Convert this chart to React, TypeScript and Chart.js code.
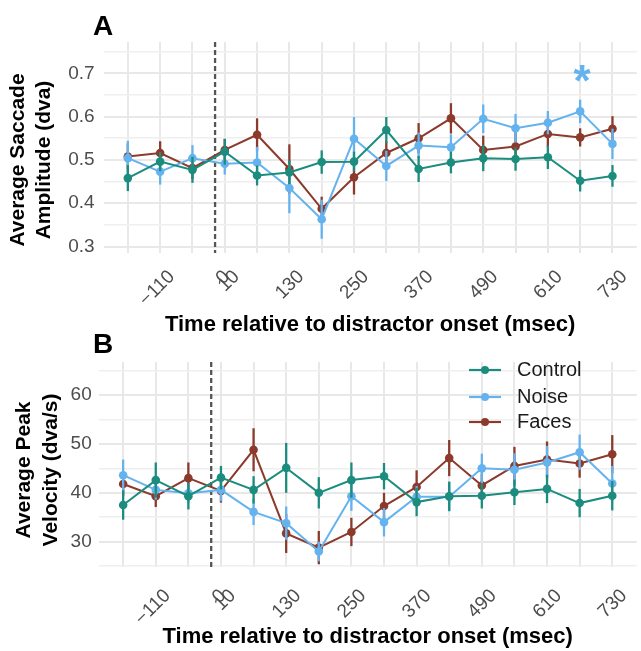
import React, { useEffect, useRef } from 'react';
import { Chart, registerables } from 'chart.js';

Chart.register(...registerables);

// ---------- data ----------
const times = [-170, -110, -50, 10, 70, 130, 190, 250, 310, 370, 430, 490, 550, 610, 670, 730];
const xTickValues = [-110, 10, 130, 250, 370, 490, 610, 730];
const xTickLabels = ['\u2212110', '10', '130', '250', '370', '490', '610', '730'];
const onsetValue = -8;
const onsetLabel = '0';
const xTitle = 'Time relative to distractor onset (msec)';

const seriesNames = ['Control', 'Noise', 'Faces'];
const seriesColors = ['#1b8c7e', '#64b3ef', '#8c3a2c'];

// Panel A: average saccade amplitude (dva)
const ampControl = [0.458, 0.496, 0.477, 0.519, 0.464, 0.471, 0.495, 0.496, 0.569, 0.479, 0.494, 0.504, 0.502, 0.506, 0.452, 0.463];
const ampControlErr = [0.03, 0.022, 0.03, 0.03, 0.023, 0.027, 0.027, 0.023, 0.03, 0.03, 0.025, 0.03, 0.027, 0.027, 0.025, 0.025];
const ampNoise = [0.504, 0.473, 0.504, 0.491, 0.494, 0.435, 0.363, 0.549, 0.486, 0.533, 0.529, 0.595, 0.573, 0.586, 0.612, 0.537];
const ampNoiseErr = [0.04, 0.03, 0.03, 0.025, 0.036, 0.058, 0.045, 0.05, 0.035, 0.03, 0.03, 0.033, 0.033, 0.027, 0.027, 0.035];
const ampFaces = [0.508, 0.516, 0.481, 0.523, 0.558, 0.479, 0.387, 0.46, 0.516, 0.55, 0.596, 0.523, 0.531, 0.56, 0.552, 0.572];
const ampFacesErr = [0.03, 0.027, 0.025, 0.025, 0.038, 0.057, 0.028, 0.04, 0.027, 0.035, 0.035, 0.033, 0.038, 0.03, 0.021, 0.029];
const ampMajorTicks = [0.3, 0.4, 0.5, 0.6, 0.7];
const ampMajorLabels = ['0.3', '0.4', '0.5', '0.6', '0.7'];
const ampMinorTicks = [0.35, 0.45, 0.55, 0.65, 0.75];
const ampTitle = ['Average Saccade', 'Amplitude (dva)'];
const sigTimes = [670];
const sigValues = [0.7];
const sigLabel = '*';

// Panel B: average peak velocity (dva/s)
const velControl = [37.5, 42.6, 39.3, 43.1, 40.6, 45.1, 40.0, 42.6, 43.4, 38.1, 39.3, 39.4, 40.1, 40.8, 37.9, 39.4];
const velControlErr = [3, 3.6, 2.7, 2.4, 2.8, 5.1, 3.2, 3.6, 2.7, 2.9, 3, 2.6, 2.6, 2.9, 2.9, 3];
const velNoise = [43.6, 40.6, 39.9, 40.6, 36.1, 33.8, 28.0, 39.3, 34.0, 39.2, 39.2, 45.0, 44.7, 46.2, 48.3, 41.9];
const velNoiseErr = [3.2, 2, 2, 2.3, 2.7, 3.4, 2, 3, 2.9, 2.2, 3, 3, 3.4, 3.4, 3.6, 3.6];
const velFaces = [41.8, 39.3, 43.0, 40.4, 48.8, 31.7, 28.8, 32.0, 37.3, 41.2, 47.1, 41.5, 45.5, 46.8, 46.0, 47.9];
const velFacesErr = [2.5, 2.2, 3.2, 2.4, 4.4, 4, 3.4, 2.9, 2.7, 3.4, 3.7, 2.4, 3.9, 3.7, 2.9, 3.9];
const velMajorTicks = [30, 40, 50, 60];
const velMajorLabels = ['30', '40', '50', '60'];
const velMinorTicks = [25, 35, 45, 55, 65];
const velTitle = ['Average Peak', 'Velocity (dva/s)'];

// ---------- styling ----------
const FONT = '"Liberation Sans", Arial, Helvetica, sans-serif';
const TICK_COLOR = '#4d4d4d';
const GRID_MAJOR = '#e8e8e8';
const GRID_MINOR = '#efefef';

type PanelCfg = {
  letter: string;
  top: number;
  height: number;
  plotTop: number;
  plotBottom: number;
  yWidth: number;
  yMin: number;
  yMax: number;
  yMajor: number[];
  yMajorLabels: string[];
  yMinor: number[];
  yTickPad: number;
  yTitle: string[];
  yTitleX: number[];
  yTitleY: number;
  letterX: number;
  letterY: number;
  xLabDx: number;
  xLabDy: number;
  xTitlePad: number;
  values: number[][];
  errors: number[][];
  legend?: { lineX0: number; lineX1: number; textX: number; ys: number[] };
  sig?: { xs: number[]; ys: number[]; label: string; color: string };
};

const near = (a: number, b: number) => Math.abs(a - b) < 1e-9;

function makePlugin(cfg: PanelCfg) {
  return {
    id: 'panelDecor' + cfg.letter,
    beforeDatasetsDraw(chart: any) {
      const { ctx, chartArea, scales } = chart;
      const px = scales.x.getPixelForValue(onsetValue);
      ctx.save();
      ctx.strokeStyle = '#555555';
      ctx.lineWidth = 2.3;
      ctx.setLineDash([5, 3]);
      ctx.beginPath();
      ctx.moveTo(px, chartArea.top);
      ctx.lineTo(px, chartArea.bottom);
      ctx.stroke();
      ctx.restore();
    },
    beforeDatasetDraw(chart: any, args: any) {
      const i = args.index;
      const { ctx, scales } = chart;
      const vals = cfg.values[i];
      const errs = cfg.errors[i];
      ctx.save();
      ctx.strokeStyle = seriesColors[i];
      ctx.lineWidth = 2.3;
      ctx.lineCap = 'butt';
      times.forEach((t, k) => {
        const px = scales.x.getPixelForValue(t);
        const y0 = scales.y.getPixelForValue(vals[k] - errs[k]);
        const y1 = scales.y.getPixelForValue(vals[k] + errs[k]);
        ctx.beginPath();
        ctx.moveTo(px, y0);
        ctx.lineTo(px, y1);
        ctx.stroke();
      });
      ctx.restore();
    },
    afterDraw(chart: any) {
      const { ctx, chartArea, scales } = chart;
      ctx.save();
      // x tick labels (rotated 45°)
      ctx.fillStyle = TICK_COLOR;
      ctx.font = `19px ${FONT}`;
      ctx.textAlign = 'right';
      ctx.textBaseline = 'top';
      const labs: [number, string][] = [[onsetValue, onsetLabel], ...xTickValues.map((v, i) => [v, xTickLabels[i]] as [number, string])];
      for (const [v, lab] of labs) {
        const px = scales.x.getPixelForValue(v);
        ctx.save();
        ctx.translate(px + cfg.xLabDx, chartArea.bottom + cfg.xLabDy);
        ctx.rotate(-Math.PI / 4);
        ctx.fillText(lab, 0, 0);
        ctx.restore();
      }
      // y title
      ctx.fillStyle = '#000000';
      ctx.font = `bold 21px ${FONT}`;
      ctx.textAlign = 'center';
      ctx.textBaseline = 'middle';
      cfg.yTitle.forEach((line, k) => {
        ctx.save();
        ctx.translate(cfg.yTitleX[k], cfg.yTitleY);
        ctx.rotate(-Math.PI / 2);
        ctx.fillText(line, 0, 0);
        ctx.restore();
      });
      // panel letter
      ctx.font = `bold 28px ${FONT}`;
      ctx.textAlign = 'left';
      ctx.textBaseline = 'alphabetic';
      ctx.fillText(cfg.letter, cfg.letterX, cfg.letterY);
      // legend
      if (cfg.legend) {
        const lg = cfg.legend;
        ctx.font = `20px ${FONT}`;
        ctx.textBaseline = 'middle';
        seriesNames.forEach((name, i) => {
          const yy = lg.ys[i];
          ctx.strokeStyle = seriesColors[i];
          ctx.lineWidth = 2.2;
          ctx.beginPath();
          ctx.moveTo(lg.lineX0, yy);
          ctx.lineTo(lg.lineX1, yy);
          ctx.stroke();
          ctx.fillStyle = seriesColors[i];
          ctx.beginPath();
          ctx.arc((lg.lineX0 + lg.lineX1) / 2, yy, 4, 0, Math.PI * 2);
          ctx.fill();
          ctx.fillStyle = '#1a1a1a';
          ctx.fillText(name, lg.textX, yy);
        });
      }
      // significance marks
      if (cfg.sig) {
        const sg = cfg.sig;
        ctx.font = `bold 44px ${FONT}`;
        ctx.fillStyle = sg.color;
        ctx.textAlign = 'center';
        ctx.textBaseline = 'alphabetic';
        const m = ctx.measureText(sg.label);
        sg.xs.forEach((t, i) => {
          const px = scales.x.getPixelForValue(t);
          const py = scales.y.getPixelForValue(sg.ys[i]);
          const off = (m.actualBoundingBoxAscent - m.actualBoundingBoxDescent) / 2;
          ctx.fillText(sg.label, px + 2, py + off);
        });
      }
      ctx.restore();
    },
  };
}

function buildConfig(cfg: PanelCfg): any {
  const allY = [...cfg.yMajor, ...cfg.yMinor].sort((a, b) => a - b);
  const isMajor = (v: number) => cfg.yMajor.some((m) => near(m, v));
  return {
    type: 'line',
    data: {
      datasets: seriesNames.map((name, i) => ({
        label: name,
        data: times.map((t, k) => ({ x: t, y: cfg.values[i][k] })),
        borderColor: seriesColors[i],
        backgroundColor: seriesColors[i],
        borderWidth: 2,
        pointRadius: 4.3,
        pointHoverRadius: 4.3,
        pointBorderWidth: 0,
        tension: 0,
        fill: false,
      })),
    },
    options: {
      animation: false,
      responsive: false,
      maintainAspectRatio: false,
      events: [],
      layout: { padding: { top: cfg.plotTop, right: 2, bottom: 0, left: 0 } },
      plugins: { legend: { display: false }, tooltip: { enabled: false }, title: { display: false } },
      scales: {
        x: {
          type: 'linear',
          min: -215,
          max: 775,
          afterBuildTicks: (s: any) => {
            s.ticks = times.map((v) => ({ value: v }));
          },
          afterFit: (s: any) => {
            s.height = cfg.height - cfg.plotBottom;
          },
          ticks: { display: false, autoSkip: false },
          grid: { color: GRID_MAJOR, lineWidth: 2, drawTicks: false },
          border: { display: false },
          title: {
            display: true,
            text: xTitle,
            color: '#000000',
            font: { family: FONT, size: 22, weight: 'bold', lineHeight: 1.2 },
            padding: { top: 0, bottom: cfg.xTitlePad },
          },
        },
        y: {
          type: 'linear',
          min: cfg.yMin,
          max: cfg.yMax,
          afterBuildTicks: (s: any) => {
            s.ticks = allY.map((v) => ({ value: v }));
          },
          afterFit: (s: any) => {
            s.width = cfg.yWidth;
          },
          ticks: {
            autoSkip: false,
            padding: cfg.yTickPad,
            color: TICK_COLOR,
            font: { family: FONT, size: 19 },
            callback: (v: number) => {
              const idx = cfg.yMajor.findIndex((m) => near(m, v));
              return idx >= 0 ? cfg.yMajorLabels[idx] : '';
            },
          },
          grid: {
            drawTicks: false,
            color: (c: any) => (isMajor(c.tick.value) ? GRID_MAJOR : GRID_MINOR),
            lineWidth: (c: any) => (isMajor(c.tick.value) ? 2 : 1.6),
          },
          border: { display: false },
        },
      },
    },
    plugins: [makePlugin(cfg)],
  };
}

const panelA: PanelCfg = {
  letter: 'A',
  top: 0,
  height: 340,
  plotTop: 42,
  plotBottom: 253,
  yWidth: 103.6,
  yMin: 0.285,
  yMax: 0.7723,
  yMajor: ampMajorTicks,
  yMajorLabels: ampMajorLabels,
  yMinor: ampMinorTicks,
  yTickPad: 9,
  yTitle: ampTitle,
  yTitleX: [18.5, 44.5],
  yTitleY: 160,
  letterX: 93,
  letterY: 35,
  xLabDx: 5,
  xLabDy: 14,
  xTitlePad: 2,
  values: [ampControl, ampNoise, ampFaces],
  errors: [ampControlErr, ampNoiseErr, ampFacesErr],
  sig: { xs: sigTimes, ys: sigValues, label: sigLabel, color: seriesColors[1] },
};

const panelB: PanelCfg = {
  letter: 'B',
  top: 330,
  height: 321,
  plotTop: 32,
  plotBottom: 237,
  yWidth: 98.7,
  yMin: 24.83,
  yMax: 66.75,
  yMajor: velMajorTicks,
  yMajorLabels: velMajorLabels,
  yMinor: velMinorTicks,
  yTickPad: 7,
  yTitle: velTitle,
  yTitleX: [24.5, 51],
  yTitleY: 140,
  letterX: 93,
  letterY: 23,
  xLabDx: 5,
  xLabDy: 19,
  xTitlePad: 1,
  values: [velControl, velNoise, velFaces],
  errors: [velControlErr, velNoiseErr, velFacesErr],
  legend: { lineX0: 469, lineX1: 501, textX: 517, ys: [40, 67, 92] },
};

function Panel({ cfg }: { cfg: PanelCfg }) {
  const ref = useRef<HTMLCanvasElement | null>(null);
  useEffect(() => {
    if (!ref.current) return;
    const chart = new Chart(ref.current, buildConfig(cfg));
    return () => chart.destroy();
  }, [cfg]);
  return (
    <canvas
      ref={ref}
      width={641}
      height={cfg.height}
      style={{ position: 'absolute', left: 0, top: cfg.top, width: 641, height: cfg.height, display: 'block' }}
    />
  );
}

export default function App() {
  return (
    <div style={{ position: 'absolute', left: 0, top: 0, width: 641, height: 651, background: '#ffffff', overflow: 'hidden' }}>
      <Panel cfg={panelA} />
      <Panel cfg={panelB} />
    </div>
  );
}
